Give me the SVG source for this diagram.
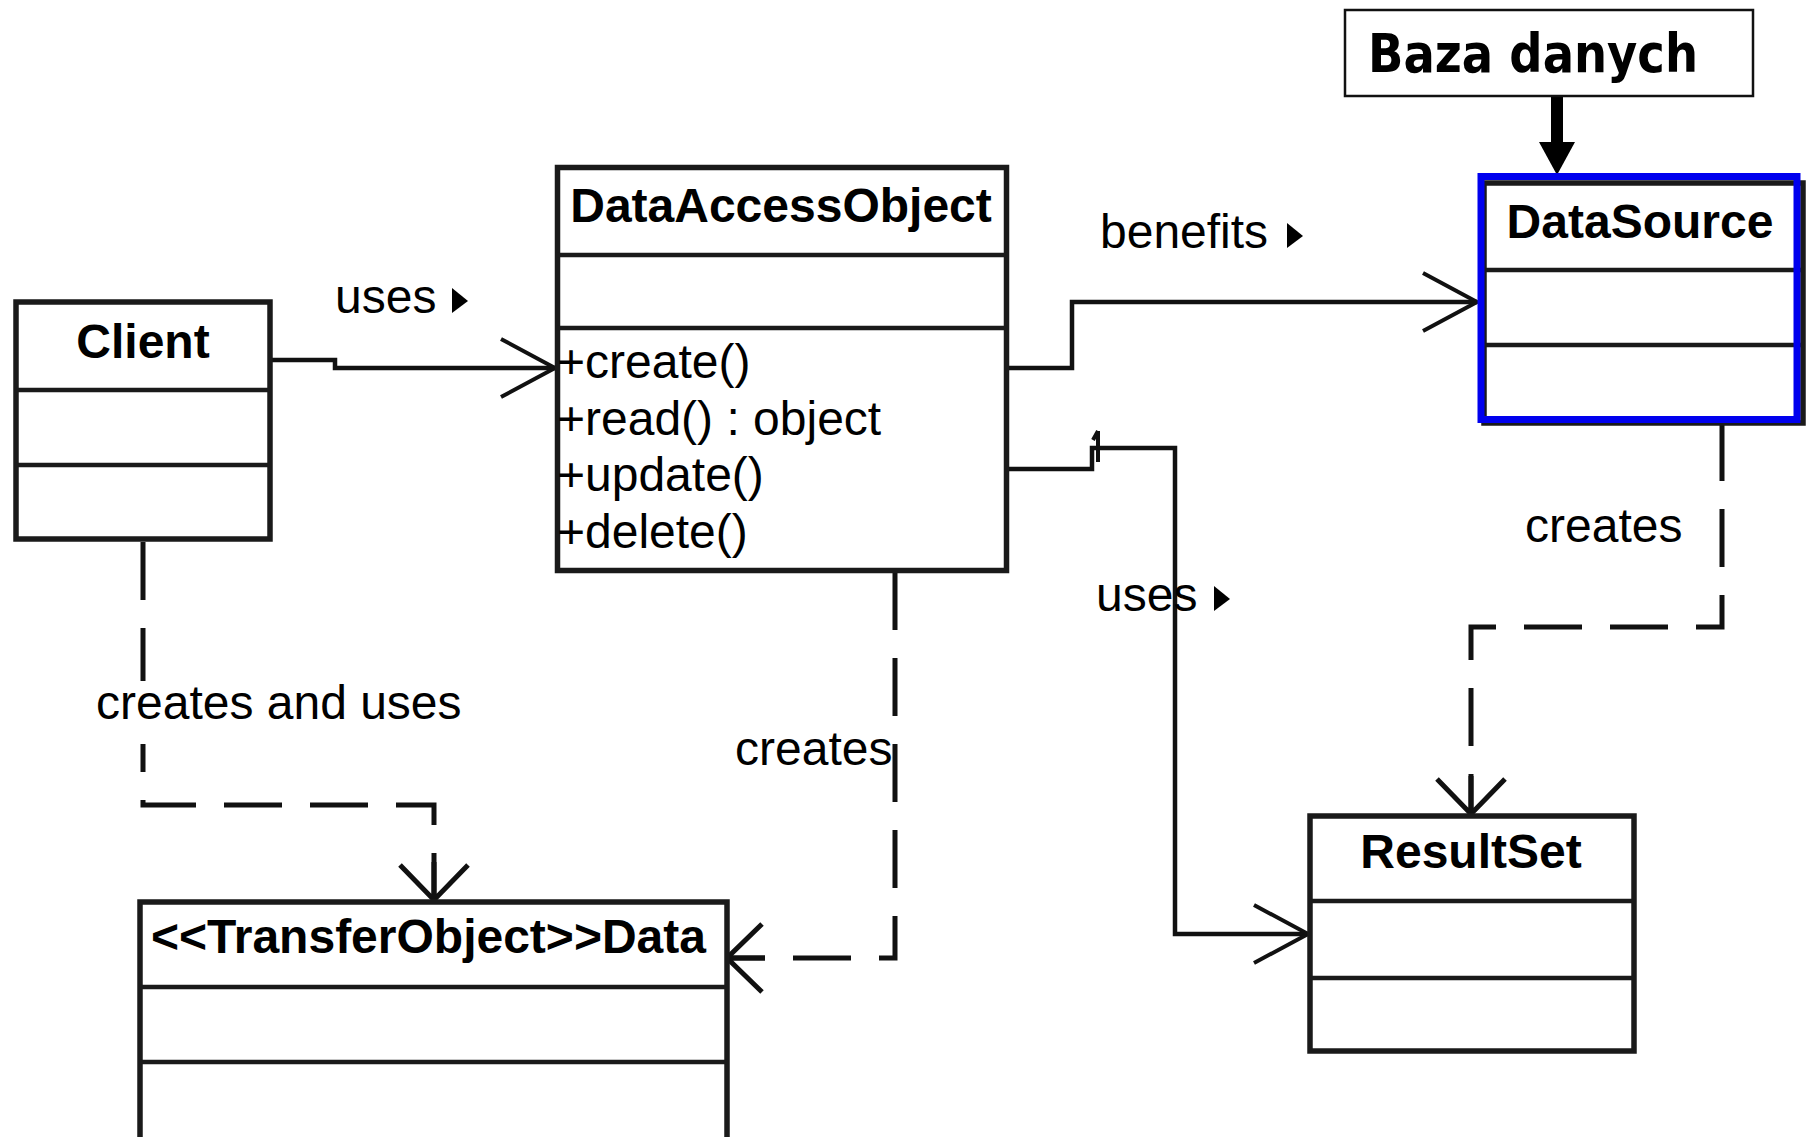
<svg xmlns="http://www.w3.org/2000/svg" width="1808" height="1137" viewBox="0 0 1808 1137">
  <style>
    .box { fill: #ffffff; stroke: #1a1a1a; stroke-width: 5.5; }
    .div { stroke: #1a1a1a; stroke-width: 4.5; }
    .title { font-family: "Liberation Sans", Arial, sans-serif; font-size: 48px; font-weight: bold; fill: #000; }
    .txt { font-family: "Liberation Sans", Arial, sans-serif; font-size: 48px; fill: #000; }
    .assoc { fill: none; stroke: #111; stroke-width: 4.5; marker-end: url(#openArrow); }
    .dep { fill: none; stroke: #111; stroke-width: 5; stroke-dasharray: 58 28; marker-end: url(#depArrow); }
    .dir { fill: #000; }
  </style>
  <defs>
    <!-- open arrowhead for associations -->
    <marker id="openArrow" markerUnits="userSpaceOnUse" orient="auto" refX="0" refY="0" markerWidth="60" markerHeight="60" overflow="visible">
      <path d="M-54,-29 L0,0 L-54,29" fill="none" stroke="#111" stroke-width="4"/>
    </marker>
    <!-- open arrowhead with stem for dependencies -->
    <marker id="depArrow" markerUnits="userSpaceOnUse" orient="auto" refX="0" refY="0" markerWidth="60" markerHeight="60" overflow="visible">
      <path d="M-35,-34 L0,0 L-35,34 M-38,0 L0,0" fill="none" stroke="#111" stroke-width="5"/>
    </marker>
  </defs>

  <rect x="0" y="0" width="1808" height="1137" fill="#ffffff"/>

  <g id="connectors">
    <!-- Client uses DataAccessObject -->
    <path class="assoc" d="M271,360 H335 V368 H555"/>
    <!-- DataAccessObject benefits DataSource -->
    <path class="assoc" d="M1009,368 H1072 V302 H1477"/>
    <!-- DataAccessObject uses ResultSet -->
    <path class="assoc" d="M1009,469 H1092 V448 H1175 V934 H1308"/>
    <path d="M1098,431 V462 M1093,440 L1098,431" fill="none" stroke="#111" stroke-width="4"/>
    <!-- Client creates and uses Data -->
    <path class="dep" d="M143,542 V805 H434 V900"/>
    <!-- DataAccessObject creates Data -->
    <path class="dep" d="M895,572 V958 H727"/>
    <!-- DataSource creates ResultSet -->
    <path class="dep" d="M1722,423 V627 H1471 V814"/>
    <!-- Baza danych points at DataSource -->
    <path d="M1557,96 V145" stroke="#000" stroke-width="12"/>
    <polygon points="1539,142 1575,142 1557,175" fill="#000"/>

    <g id="labels">
      <text class="txt" x="335" y="313">uses</text>
      <polygon class="dir" points="452,288 468,301 452,313"/>
      <text class="txt" x="1100" y="248">benefits</text>
      <polygon class="dir" points="1287,223 1303,236 1287,248"/>
      <text class="txt" x="1096" y="611">uses</text>
      <polygon class="dir" points="1214,586 1230,599 1214,611"/>
      <rect x="90" y="681" width="376" height="63" fill="#ffffff"/>
      <text class="txt" x="96" y="719">creates and uses</text>
      <text class="txt" x="735" y="765">creates</text>
      <text class="txt" x="1525" y="542">creates</text>
    </g>
  </g>

  <g id="client">
    <rect class="box" x="16" y="302" width="254" height="237"/>
    <line class="div" x1="16" y1="390" x2="270" y2="390"/>
    <line class="div" x1="16" y1="465" x2="270" y2="465"/>
    <text class="title" x="143" y="358" text-anchor="middle">Client</text>
  </g>

  <g id="dataAccessObject">
    <rect class="box" x="557.5" y="167.5" width="449" height="403"/>
    <line class="div" x1="557" y1="255" x2="1007" y2="255"/>
    <line class="div" x1="557" y1="328" x2="1007" y2="328"/>
    <text class="title" x="781" y="222" text-anchor="middle">DataAccessObject</text>
    <text class="txt" x="557" y="378">+create()</text>
    <text class="txt" x="557" y="435">+read() : object</text>
    <text class="txt" x="557" y="491">+update()</text>
    <text class="txt" x="557" y="548">+delete()</text>
  </g>

  <g id="dataSource">
    <rect class="box" x="1484" y="183" width="319" height="240"/>
    <line class="div" x1="1484" y1="270" x2="1803" y2="270"/>
    <line class="div" x1="1484" y1="345" x2="1803" y2="345"/>
    <rect x="1481" y="176.5" width="316" height="243" fill="none" stroke="#0000ee" stroke-width="7"/>
    <text class="title" x="1640" y="238" text-anchor="middle">DataSource</text>
  </g>

  <g id="resultSet">
    <rect class="box" x="1310" y="816" width="324" height="235"/>
    <line class="div" x1="1310" y1="901" x2="1634" y2="901"/>
    <line class="div" x1="1310" y1="978" x2="1634" y2="978"/>
    <text class="title" x="1471" y="868" text-anchor="middle">ResultSet</text>
  </g>

  <g id="data">
    <rect class="box" x="140" y="902" width="587" height="260"/>
    <line class="div" x1="140" y1="987" x2="727" y2="987"/>
    <line class="div" x1="140" y1="1062" x2="727" y2="1062"/>
    <text class="title" x="151" y="953">&lt;&lt;TransferObject&gt;&gt;Data</text>
  </g>

  <g id="bazaDanych">
    <rect x="1345" y="10" width="408" height="86" fill="#ffffff" stroke="#111" stroke-width="2.5"/>
    <text x="1368" y="72" textLength="330" lengthAdjust="spacingAndGlyphs" font-family="'DejaVu Sans', Verdana, sans-serif" font-size="53" font-weight="bold" fill="#000">Baza danych</text>
  </g>
</svg>
